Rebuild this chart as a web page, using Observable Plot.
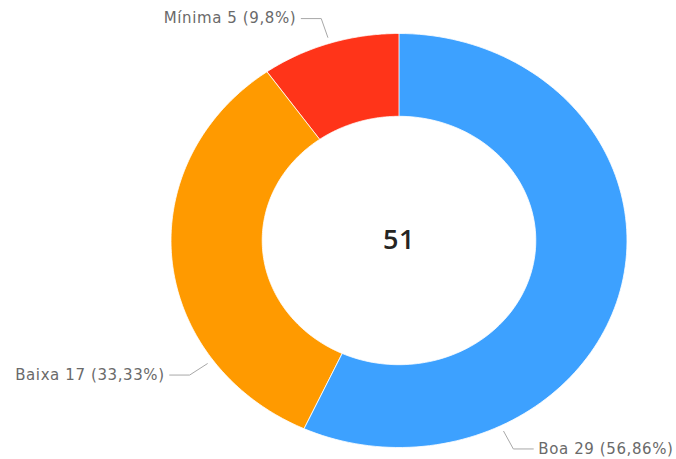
<!DOCTYPE html>
<html>
<head>
<meta charset="utf-8">
<script src="https://cdn.jsdelivr.net/npm/d3@7"></script>
<script src="https://cdn.jsdelivr.net/npm/@observablehq/plot@0.6"></script>
<style>
  html, body { margin: 0; padding: 0; background: #fff; }
  #chart svg { display: block; }
  #chart svg text { letter-spacing: 0.6px; }
</style>
</head>
<body>
<div id="chart"></div>
<script>
// ---- data ----
const categories = ["Boa", "Baixa", "Mínima"];
const values = [29, 17, 5];
const percentLabels = ["56,86%", "33,33%", "9,8%"];
const colors = ["#3da1ff", "#ff9a00", "#ff3419"];

// ---- layout constants (not data) ----
const W = 676, H = 459;
const innerRatio = 0.6;
const labelFrac = [0.75, 0.25, 0.5];   // where along each slice the leader attaches
const pxX = 2 / 456, pxY = 2 / 414;     // one pixel in data units

const total = d3.sum(values);
let acc = 0;
const slices = categories.map((c, i) => {
  const a0 = acc / total * 2 * Math.PI;
  acc += values[i];
  const a1 = acc / total * 2 * Math.PI;
  return {cat: c, a0, a1, value: values[i], pct: percentLabels[i]};
});

const pt = (a, r) => ({x: r * Math.sin(a), y: r * Math.cos(a)});

const ring = [];
for (const s of slices) {
  const n = 120;
  for (let k = 0; k <= n; k++) ring.push({cat: s.cat, ...pt(s.a0 + (s.a1 - s.a0) * k / n, 1)});
  for (let k = n; k >= 0; k--) ring.push({cat: s.cat, ...pt(s.a0 + (s.a1 - s.a0) * k / n, innerRatio)});
}

const leaders = [];
const labels = [];
slices.forEach((s, i) => {
  const a = s.a0 + (s.a1 - s.a0) * labelFrac[i];
  const p1 = pt(a, 1.03), p2 = pt(a, 1.125);
  const side = Math.sin(a) >= 0 ? 1 : -1;
  const p3 = {x: p2.x + side * 20 * pxX, y: p2.y};
  leaders.push({cat: s.cat, ...p1}, {cat: s.cat, ...p2}, {cat: s.cat, ...p3});
  labels.push({side, x: p3.x + side * 5 * pxX, y: p3.y, text: `${s.cat} ${s.value} (${s.pct})`});
});

const chart = Plot.plot({
  width: W,
  height: H,
  margin: 0,
  x: {domain: [-1, 1], range: [170.5, 626.5], axis: null},
  y: {domain: [-1, 1], range: [447, 33], axis: null},
  color: {domain: categories, range: colors},
  style: {fontFamily: "'DejaVu Sans', sans-serif"},
  marks: [
    Plot.line(ring, {x: "x", y: "y", z: "cat", fill: "cat", stroke: "#fff", strokeWidth: 0.8, curve: "linear-closed"}),
    Plot.line(leaders, {x: "x", y: "y", z: "cat", stroke: "#a8a8a8", strokeWidth: 1}),
    Plot.text(labels.filter(d => d.side < 0), {x: "x", y: "y", text: "text", textAnchor: "end", fill: "#6a6a6a", fontSize: 15}),
    Plot.text(labels.filter(d => d.side > 0), {x: "x", y: "y", text: "text", textAnchor: "start", fill: "#6a6a6a", fontSize: 15}),
    Plot.text([total], {x: () => 0, y: () => 0, text: d => String(d), fill: "#252423", fontSize: 27, fontWeight: 600, fontFamily: "'Open Sans', sans-serif"})
  ]
});
document.getElementById("chart").append(chart);
</script>
</body>
</html>
